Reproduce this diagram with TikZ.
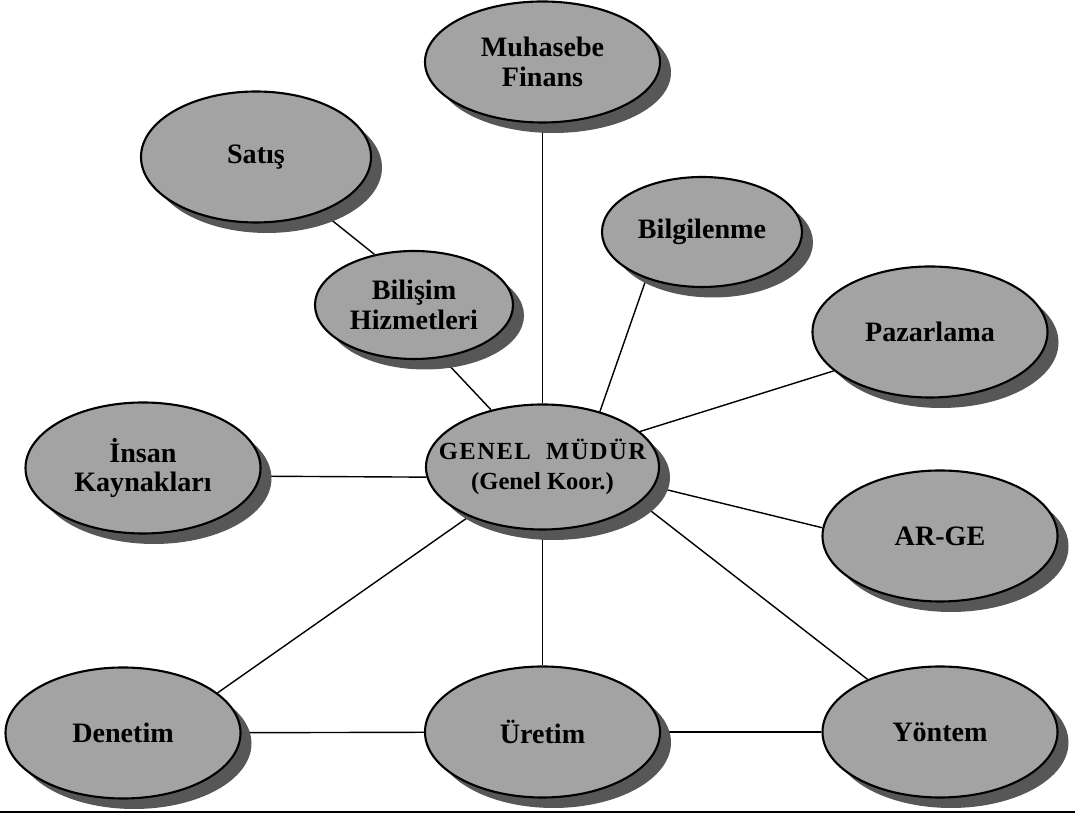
\documentclass[tikz,border=0pt]{standalone}
\usepackage{fontspec}
\setmainfont{Liberation Serif}
\usepackage{tikz}
\usetikzlibrary{shapes.geometric, shadows, backgrounds}

\begin{document}
\begin{tikzpicture}[
		birim/.style={ellipse, draw, very thick, fill=black!36, inner sep=0pt, align=center,
			minimum width=4.7cm, minimum height=2.62cm,
			font=\fontsize{16}{17}\selectfont\bfseries,
			drop shadow={shadow xshift=0.22cm, shadow yshift=-0.21cm, fill=black!66, opacity=1}},
		bag/.style={thick}]
	\useasboundingbox (0,0) rectangle (21.5,16.4);
	
	% ---------- birimler ----------
	\node[birim, minimum height=2.42cm] (muhasebe) at (10.85,15.16) {Muhasebe\\Finans};
	\node[birim, minimum width=4.6cm] (satis) at (5.12,13.26) {Satış};
	\node[birim, minimum width=4.0cm, minimum height=2.2cm] (bilgilenme) at (14.04,11.76) {Bilgilenme};
	\node[birim, minimum width=3.96cm, minimum height=2.16cm] (bilisim) at (8.28,10.3) {Bilişim\\Hizmetleri};
	\node[birim] (pazarlama) at (18.6,9.76) {Pazarlama};
	\node[birim] (insan) at (2.86,7.04) {İnsan\\Kaynakları};
	\node[birim, minimum width=4.66cm, minimum height=2.5cm, inner xsep=-0.45cm,
		font=\fontsize{14}{17}\selectfont\bfseries] (genel) at (10.85,7.06)
		{{\addfontfeatures{LetterSpace=6}GENEL\ \ MÜDÜR}\\(Genel Koor.)};
	\node[birim] (arge) at (18.8,5.68) {AR-GE};
	\node[birim] (denetim) at (2.46,1.74) {Denetim};
	\node[birim] (uretim) at (10.85,1.76) {Üretim};
	\node[birim] (yontem) at (18.8,1.76) {Yöntem};
	
	% ---------- bağlantılar ----------
	\begin{scope}[on background layer]
		\draw[bag] (satis.-40) -- (bilisim.128);
		\draw[bag] (bilisim.-62) -- (genel.132);
		\draw[bag] (muhasebe) -- (genel);
		\draw[bag] (bilgilenme.-140) -- (genel.44);
		\draw[bag] (pazarlama.-158) -- (genel.20);
		\draw[bag] (insan.-4) -- (genel.185);
		\draw[bag] (arge.176) -- (genel.-10);
		\draw[bag] (genel.214) -- (denetim.23);
		\draw[bag] (genel) -- (uretim);
		\draw[bag] (genel.-20) -- (yontem.144);
		\draw[bag] (denetim) -- (uretim);
		\draw[bag] (uretim) -- (yontem);
	\end{scope}
	
	% alt çizgi
	\coordinate (solalt) at (0,0.16);
	\coordinate (sagalt) at (21.5,0.16);
	\draw[very thick] (solalt) -- (sagalt);
\end{tikzpicture}
\end{document}
